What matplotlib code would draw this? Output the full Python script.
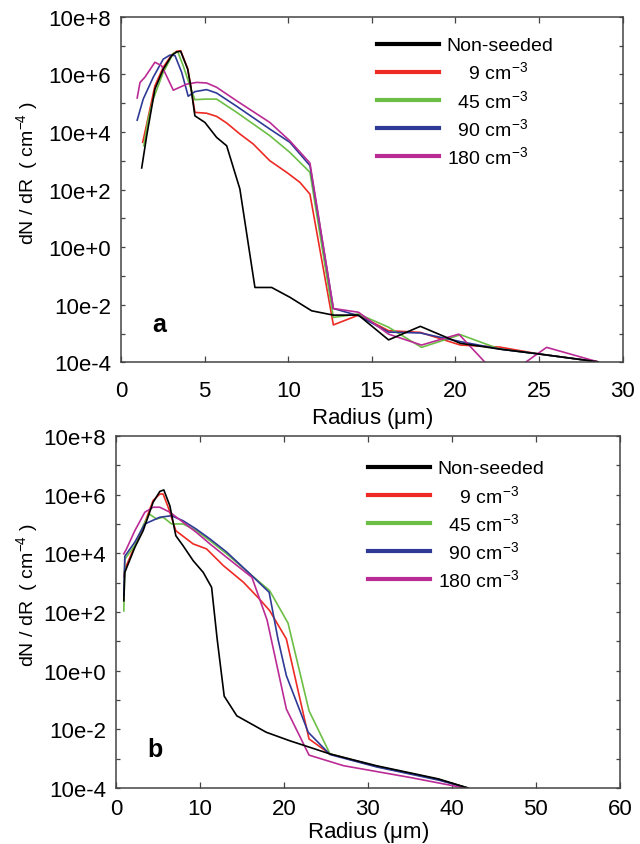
"""
Droplet size distributions (dN/dR) for non-seeded and seeded cases,
two panels (a: 0-30 um, b: 0-60 um), log y axis.
"""
import numpy as np
import matplotlib.pyplot as plt

plt.rcParams['font.family'] = ['Liberation Sans', 'DejaVu Sans']
plt.rcParams['mathtext.fontset'] = 'custom'
plt.rcParams['mathtext.rm'] = 'Liberation Sans'
plt.rcParams['mathtext.default'] = 'regular'

### data: radius (um) and log10 of dN/dR (cm^-4) ###
labels = ["Non-seeded", "    9 cm$^{-3}$", "  45 cm$^{-3}$", "  90 cm$^{-3}$", "180 cm$^{-3}$"]
colors = ['#000000', '#ed2a24', '#6dbe45', '#2e3a96', '#bb2b95']

## panel a
a_r_ns = [1.24, 1.54, 2.03, 2.53, 3.03, 3.33, 3.57, 3.99, 4.17, 4.42, 5.02, 5.72, 6.32, 7.11,
          8.01, 9.01, 10.1, 11.4, 12.7, 14.2, 16.0, 17.9, 20.3, 22.65, 25.0, 28.5]
a_ns = [2.75, 3.87, 5.49, 6.18, 6.65, 6.78, 6.80, 6.18, 5.60, 4.56, 4.33, 3.81, 3.52, 2.02,
        -1.40, -1.40, -1.74, -2.21, -2.36, -2.36, -3.22, -2.75, -3.34, -3.54, -3.71, -3.98]

a_r_9 = [1.30, 1.55, 2.03, 2.53, 3.03, 3.33, 3.57, 3.99, 4.17, 4.42, 5.12, 5.72, 6.32, 7.11,
         7.91, 8.9, 9.9, 10.7, 11.3, 12.7, 14.2, 16.0, 17.9, 20.3, 22.65, 25.0, 28.5]
a_9 = [3.64, 4.30, 5.60, 6.25, 6.68, 6.80, 6.82, 6.20, 5.60, 4.68, 4.65, 4.54, 4.31, 3.93,
       3.58, 3.00, 2.60, 2.25, 1.84, -2.70, -2.36, -2.90, -2.96, -3.40, -3.47, -3.71, -3.98]

a_r_45 = [1.37, 1.63, 1.93, 2.53, 3.13, 3.40, 3.72, 4.22, 4.42, 5.02, 5.72, 6.92, 8.9, 10.1,
          11.3, 12.7, 14.2, 16.0, 17.97, 20.3, 22.65, 25.0, 28.5]
a_45 = [3.52, 4.45, 5.14, 6.07, 6.73, 6.78, 6.30, 5.43, 5.12, 5.14, 5.14, 4.68, 3.87, 3.29,
        2.60, -2.44, -2.32, -2.78, -3.48, -3.04, -3.54, -3.71, -3.98]

a_r_90 = [0.97, 1.33, 1.93, 2.53, 2.93, 3.23, 3.63, 4.02, 4.42, 5.12, 5.72, 6.92, 8.9, 10.1,
          11.3, 12.7, 14.2, 16.0, 17.9, 20.3, 22.65, 25.0, 28.5]
a_90 = [4.41, 5.14, 5.90, 6.53, 6.67, 6.65, 6.07, 5.24, 5.40, 5.47, 5.35, 4.89, 4.10, 3.64,
        2.83, -2.13, -2.38, -2.95, -2.98, -3.28, -3.54, -3.71, -3.98]

a_r_180 = [0.97, 1.14, 1.43, 2.03, 2.43, 3.13, 3.93, 4.52, 5.12, 5.72, 6.92, 8.9, 10.1, 11.3,
           12.7, 14.2, 16.0, 17.97, 20.2, 22.25, 23.45, 25.45, 28.5]
a_180 = [5.18, 5.72, 5.90, 6.42, 6.30, 5.45, 5.66, 5.72, 5.70, 5.55, 5.08, 4.33, 3.69, 2.92,
         -2.13, -2.26, -3.02, -3.40, -3.02, -4.30, -4.30, -3.48, -3.98]

## panel b
b_r_ns = [0.95, 1.07, 2.26, 3.25, 4.44, 5.24, 5.71, 6.43, 7.14, 8.0, 9.2, 10.4, 11.4, 12.06,
          12.9, 14.4, 17.9, 20.7, 25.5, 31.0, 38.4, 41.9]
b_ns = [2.38, 3.35, 4.20, 4.77, 5.74, 6.11, 6.16, 5.62, 4.60, 4.26, 3.75, 3.35, 2.84, 1.08,
        -0.87, -1.54, -2.10, -2.39, -2.84, -3.24, -3.69, -4.00]

b_r_9 = [0.95, 1.07, 2.26, 3.25, 4.44, 5.24, 5.63, 6.23, 7.14, 9.2, 10.8, 12.8, 15.2, 17.1,
         18.3, 20.3, 23.0, 25.5, 31.0, 38.4, 41.9]
b_9 = [3.20, 3.46, 4.25, 4.89, 5.80, 6.02, 6.02, 5.57, 4.77, 4.32, 4.15, 3.58, 3.01, 2.44,
       2.05, 1.08, -2.33, -2.84, -3.26, -3.71, -4.00]

b_r_45 = [0.95, 1.07, 2.26, 3.25, 3.97, 4.84, 5.63, 6.63, 8.0, 9.6, 11.2, 13.2, 16.0, 18.3,
          20.5, 23.0, 25.5, 31.0, 38.4, 41.9]
b_45 = [2.04, 3.80, 4.27, 4.94, 5.34, 5.17, 5.23, 5.00, 5.00, 4.77, 4.43, 3.98, 3.29, 2.73,
        1.62, -1.37, -2.84, -3.26, -3.71, -4.00]

b_r_90 = [0.95, 1.07, 2.26, 3.45, 5.24, 6.63, 8.0, 9.6, 11.2, 13.2, 16.0, 18.25, 19.3, 20.3,
          22.9, 25.5, 31.0, 38.4, 41.9]
b_90 = [2.56, 3.90, 4.38, 5.00, 5.23, 5.28, 5.11, 4.82, 4.49, 4.04, 3.29, 2.67, 1.08, -0.17,
        -2.10, -2.86, -3.28, -3.73, -4.00]

b_r_180 = [0.95, 1.27, 2.26, 3.45, 4.44, 5.24, 6.43, 8.0, 9.6, 11.2, 13.2, 16.2, 18.0, 20.3,
           23.0, 27.1, 35.0, 41.9]
b_180 = [3.98, 4.15, 4.77, 5.40, 5.57, 5.57, 5.40, 5.06, 4.71, 4.32, 3.86, 3.18, 1.73, -1.31,
         -2.88, -3.24, -3.64, -4.02]

panel_a = [(a_r_ns, a_ns), (a_r_9, a_9), (a_r_45, a_45), (a_r_90, a_90), (a_r_180, a_180)]
panel_b = [(b_r_ns, b_ns), (b_r_9, b_9), (b_r_45, b_45), (b_r_90, b_90), (b_r_180, b_180)]

y_exps = np.arange(-4, 9)
tick_font = 16

### make the figure ###
fig = plt.figure(figsize=(6.4, 8.45), dpi=100)
ax_a = fig.add_axes([0.189, 0.570, 0.784, 0.409])
ax_b = fig.add_axes([0.181, 0.0663, 0.7875, 0.4166])

# (axes, series, x max, x step, letter, legend anchor, x tick pad, xlabel pad, ylabel x)
panels = [
    (ax_a, panel_a, 30, 5, 'a', (0.51, 0.942), 12.5, 3.0, -0.161),
    (ax_b, panel_b, 60, 10, 'b', (0.50, 0.932), 7.0, 0.5, -0.151),
]

for ax, series, xmax, xstep, letter, leg_anchor, xpad, xlpad, ylx in panels:
    # draw non-seeded last so it sits on top
    order = [1, 2, 3, 4, 0]
    for i in order:
        r, e = series[i]
        ax.plot(r, np.power(10.0, e), color=colors[i], linewidth=1.2, label=labels[i])

    ax.set_yscale('log')
    ax.set_xlim(0, xmax)
    ax.set_ylim(1e-4, 1e8)
    ax.set_xticks(np.arange(0, xmax + 1, xstep))
    ax.set_yticks(np.power(10.0, y_exps))
    ax.set_yticklabels([f"10e{k:+d}" if k % 2 == 0 else "" for k in y_exps])
    ax.yaxis.set_minor_locator(plt.NullLocator())

    ax.tick_params(axis='both', direction='in', top=True, right=True,
                   labelsize=tick_font, color='#444444', width=0.9)
    ax.tick_params(axis='x', length=4, pad=xpad)
    ax.tick_params(axis='y', length=3, pad=7)
    for sp in ax.spines.values():
        sp.set_color('#444444')
        sp.set_linewidth(1.1)

    ax.set_xlabel(r"Radius ($\mu$m)", fontsize=tick_font, labelpad=xlpad)
    ax.set_ylabel(r"dN / dR  ( cm$^{-4}$ )", fontsize=14)
    ax.yaxis.set_label_coords(ylx, 0.55)

    ax.text(0.062, 0.11, letter, transform=ax.transAxes, fontsize=18,
            fontweight='bold', va='center', ha='left')

    handles, labs = ax.get_legend_handles_labels()
    handles = [handles[order.index(i)] for i in range(5)]
    labs = [labs[order.index(i)] for i in range(5)]
    leg = ax.legend(handles, labs, loc='upper left', bbox_to_anchor=leg_anchor,
                    frameon=False, fontsize=14, handlelength=3.2, handletextpad=0.4,
                    labelspacing=0.32, borderpad=0, borderaxespad=0)
    for h in leg.get_lines():
        h.set_linewidth(3)

plt.savefig("out.png", dpi=100)
